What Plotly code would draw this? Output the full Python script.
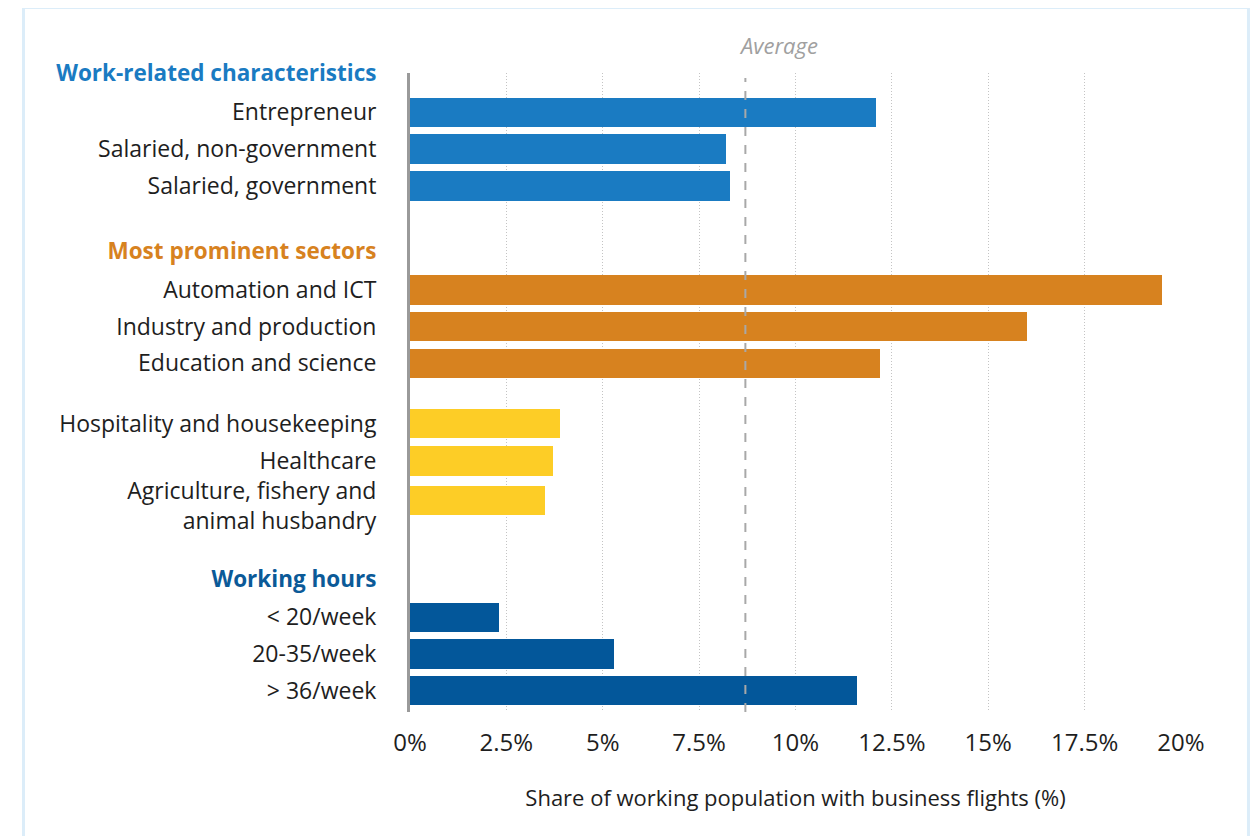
import plotly.graph_objects as go

# ---- data ----
work_labels = ["Entrepreneur", "Salaried, non-government", "Salaried, government"]
work_values = [12.1, 8.2, 8.3]

sector_top_labels = ["Automation and ICT", "Industry and production", "Education and science"]
sector_top_values = [19.5, 16.0, 12.2]

sector_low_labels = ["Hospitality and housekeeping", "Healthcare", "Agriculture, fishery and<br>animal husbandry"]
sector_low_values = [3.9, 3.7, 3.5]

hours_labels = ["< 20/week", "20-35/week", "> 36/week"]
hours_values = [2.3, 5.3, 11.6]

average_value = 8.7

headers = ["Work-related characteristics", "Most prominent sectors", "Working hours"]
x_ticks = [0, 2.5, 5, 7.5, 10, 12.5, 15, 17.5, 20]
x_title = "Share of working population with business flights (%)"

# ---- styles ----
C_WORK = "#1a7bc2"
C_SECT = "#d7821f"
C_LOW = "#fdcd26"
C_HOURS = "#03579a"
HDR_COLORS = [C_WORK, C_SECT, "#0b5a98"]
FONT = "Open Sans"
FS = 22

# ---- layout of rows (in row-pitch units, top-down) ----
y = 0.0
tickvals, ticktext = [], []
bar_y, bar_x, bar_c = [], [], []

def add_header(i):
    tickvals.append(y)
    ticktext.append('<b><span style="color:%s;font-size:22.5px">%s</span></b>' % (HDR_COLORS[i], headers[i]))

def add_bars(labels, values, color, steps=None):
    global y
    for k, (l, v) in enumerate(zip(labels, values)):
        if k > 0:
            y += steps[k - 1] if steps else 1.0
        # two-line labels sit a little lower than their bar
        tickvals.append(y + (0.16 if "<br>" in l else 0.0))
        ticktext.append(l)
        bar_y.append(y)
        bar_x.append(v)
        bar_c.append(color)

add_header(0)
y += 1.07
add_bars(work_labels, work_values, C_WORK)
y += 1.76
add_header(1)
y += 1.07
add_bars(sector_top_labels, sector_top_values, C_SECT)
y += 1.64
add_bars(sector_low_labels, sector_low_values, C_LOW, steps=[1.02, 1.07])
y += 2.15
add_header(2)
y += 1.03
add_bars(hours_labels, hours_values, C_HOURS)
y_bottom = y + 0.58

fig = go.Figure()
fig.add_trace(go.Bar(
    x=bar_x, y=bar_y, orientation="h",
    marker=dict(color=bar_c, line=dict(width=0)),
    width=0.8, hoverinfo="x",
))

fig.add_shape(type="line", xref="x", yref="paper",
              x0=average_value, x1=average_value, y0=0, y1=0.992,
              line=dict(color="#a8a8a8", width=2, dash="dash"), layer="above")
fig.add_annotation(x=average_value, xref="x", y=1, yref="paper",
                   text="<i>Average</i>", showarrow=False,
                   xanchor="left", yanchor="bottom", xshift=-8, yshift=11,
                   font=dict(family=FONT, size=FS, color="#a0a0a0"))

# outer light-blue frame
fig.add_shape(type="rect", xref="paper", yref="paper",
              x0=-0.5013, x1=1.0875, y0=-0.22, y1=1.1025,
              line=dict(color="#dcedf9", width=3), layer="below")

# the page body adds an 8px offset, so margins are shifted by 8px
fig.update_layout(
    width=1259, height=836,
    margin=dict(l=402, r=86, t=65, b=132),
    paper_bgcolor="white", plot_bgcolor="white",
    showlegend=False,
    font=dict(family=FONT, size=FS, color="#1e1e1e"),
    bargap=0,
    xaxis=dict(
        range=[0, 20], tickvals=x_ticks,
        ticktext=[("%g%%" % t) for t in x_ticks],
        showgrid=True, gridcolor="#c4c4c4", gridwidth=1, griddash="1px,2px",
        zeroline=False, showline=False, ticks="",
        ticklabelstandoff=14,
        title=dict(text=x_title, standoff=33, font=dict(size=FS)),
        tickfont=dict(size=24),
    ),
    yaxis=dict(
        range=[y_bottom, 0], tickvals=tickvals, ticktext=ticktext,
        showgrid=False, zeroline=False, showline=True,
        linecolor="#9a9a9a", linewidth=3, ticks="",
        ticklabelstandoff=26, tickfont=dict(size=23),
    ),
)

fig.write_html("out.html")
